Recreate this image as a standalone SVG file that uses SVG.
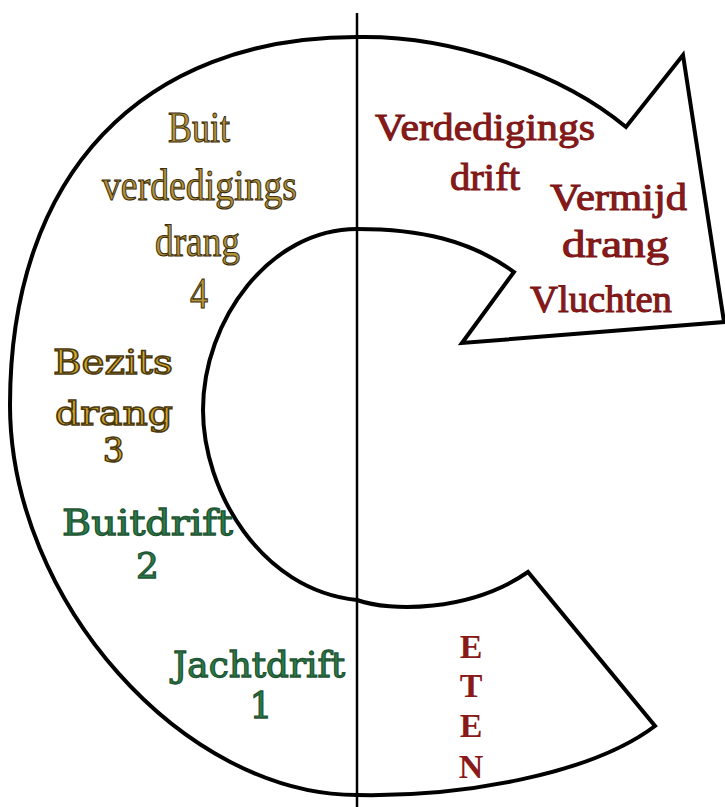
<svg xmlns="http://www.w3.org/2000/svg" width="725" height="807" viewBox="0 0 725 807">
<style>
.shape{fill:#ffffff;stroke:#000;stroke-width:4;stroke-linejoin:miter}
.axis{stroke:#000;stroke-width:2.5}
text{text-anchor:middle}
.gold4{font-family:"Liberation Serif",serif;font-size:44px;fill:#b3933a;stroke:#3a2c0c;stroke-width:1.1}
.gold3{font-family:"DejaVu Serif",serif;font-size:34px;fill:#d4a82c;stroke:#4a390f;stroke-width:1.5}
.green{font-family:"DejaVu Serif",serif;font-size:36px;fill:#2a7a4a;stroke:#1f5533;stroke-width:1.3}
.red{font-family:"Liberation Serif",serif;font-size:38px;fill:#8a1a1a;stroke:#7a1515;stroke-width:1}
.eten{font-family:"Liberation Serif",serif;font-size:34px;font-weight:bold;fill:#8a1a1a}
</style>
<rect width="725" height="807" fill="#ffffff"/>
<g id="cycle-arrow">
<path class="shape" d="M357,37 C450,35 560,72 626,127 L683,55 L724,322 L462,343 L514,272 C470,240 420,229 357,229 C270,229 203,320 203,410 C203,490 260,590 357,600 C390,612 470,612 528,572 L655,726 C590,775 460,797 357,795 C183,795 10,600 10,405 C10,174 142,37 357,37 Z"/>
</g>
<g id="connectors">
<line class="axis" x1="357" y1="13" x2="357" y2="807"/>
</g>
<g id="node-buit-verdediging">
<text class="gold4" x="199" y="142" textLength="62" lengthAdjust="spacingAndGlyphs">Buit</text>
<text class="gold4" x="199.5" y="200" textLength="195" lengthAdjust="spacingAndGlyphs">verdedigings</text>
<text class="gold4" x="197.5" y="256" textLength="85" lengthAdjust="spacingAndGlyphs">drang</text>
<text class="gold4" x="199" y="308" textLength="18" lengthAdjust="spacingAndGlyphs">4</text>
</g>
<g id="node-bezits">
<text class="gold3" x="113" y="374" textLength="120" lengthAdjust="spacingAndGlyphs">Bezits</text>
<text class="gold3" x="114" y="425" textLength="118" lengthAdjust="spacingAndGlyphs">drang</text>
<text class="gold3" x="113.5" y="462">3</text>
</g>
<g id="node-buitdrift">
<text class="green" x="147.5" y="535" textLength="171" lengthAdjust="spacingAndGlyphs">Buitdrift</text>
<text class="green" x="147.5" y="578">2</text>
</g>
<g id="node-jachtdrift">
<text class="green" x="259" y="677" textLength="172" lengthAdjust="spacingAndGlyphs">Jachtdrift</text>
<text class="green" x="261" y="718">1</text>
</g>
<g id="node-verdediging">
<text class="red" x="485" y="140" textLength="220" lengthAdjust="spacingAndGlyphs">Verdedigings</text>
<text class="red" x="485" y="190" textLength="70" lengthAdjust="spacingAndGlyphs">drift</text>
</g>
<g id="node-vermijd">
<text class="red" x="618.5" y="210" textLength="137" lengthAdjust="spacingAndGlyphs">Vermijd</text>
<text class="red" x="615.5" y="257" textLength="107" lengthAdjust="spacingAndGlyphs">drang</text>
</g>
<g id="node-vluchten">
<text class="red" x="601" y="312" textLength="142" lengthAdjust="spacingAndGlyphs">Vluchten</text>
</g>
<g id="node-eten">
<text class="eten" x="471" y="658">E</text>
<text class="eten" x="471" y="697">T</text>
<text class="eten" x="471" y="737">E</text>
<text class="eten" x="471" y="778">N</text>
</g>
</svg>
